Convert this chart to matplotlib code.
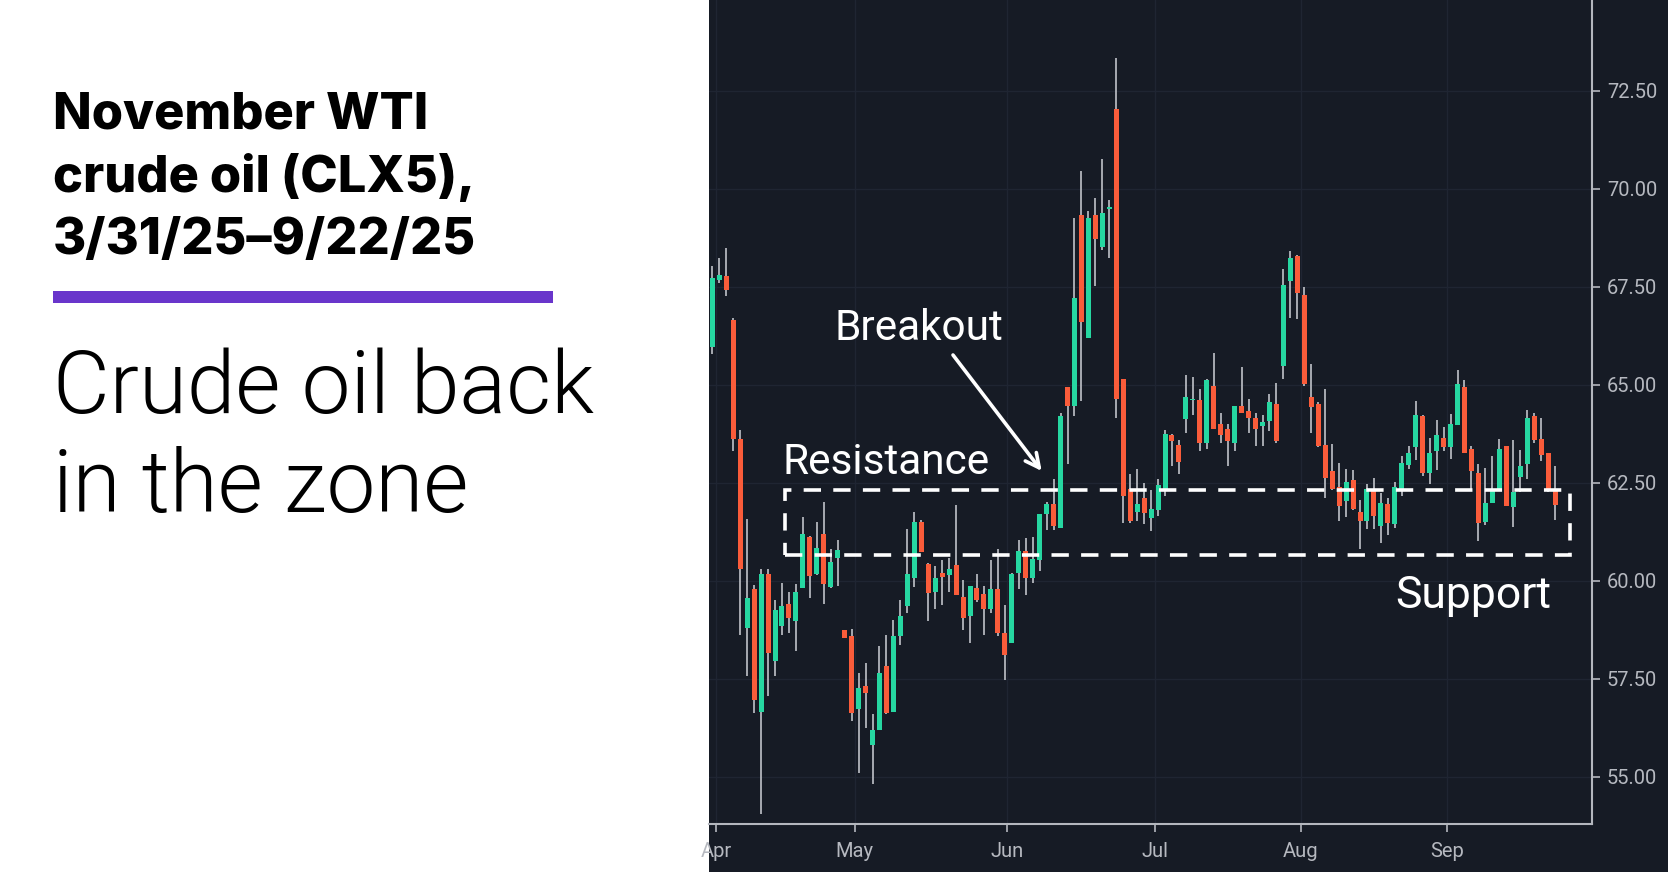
import matplotlib
matplotlib.use('Agg')
import matplotlib.pyplot as plt
import numpy as np
from matplotlib.patches import Rectangle
from matplotlib import font_manager as fm

# ---------------- data ----------------
opens = [65.95, 67.67, 67.76, 66.65, 63.61, 58.81, 59.79, 56.66, 60.17, 57.95,
         58.84, 59.40, 58.97, 59.81, 61.11, 60.17, 61.19, 59.85, 60.58, 58.74,
         58.59, 56.73, 57.31, 55.81, 56.19, 57.82, 56.66, 58.59, 59.35, 60.07,
         61.50, 60.43, 59.71, 60.21, 60.15, 60.40, 59.60, 59.10, 59.83, 59.66,
         59.29, 59.79, 58.68, 58.42, 60.21, 60.76, 60.08, 60.53, 61.70, 61.96,
         61.36, 64.95, 64.45, 69.33, 66.20, 69.33, 68.50, 69.49, 72.04, 65.14,
         62.34, 61.76, 62.12, 61.61, 61.80, 62.34, 63.72, 63.46, 64.12, 64.60,
         64.61, 63.52, 64.97, 63.99, 63.87, 63.52, 64.46, 64.33, 64.16, 63.95,
         64.07, 64.51, 65.48, 67.64, 68.27, 67.29, 64.70, 64.51, 63.46, 62.80,
         62.40, 62.03, 62.57, 61.76, 61.52, 62.31, 61.40, 61.97, 61.46, 62.35,
         62.95, 63.40, 64.20, 62.76, 63.31, 63.65, 63.40, 63.97, 64.95, 63.36,
         62.76, 61.49, 61.99, 62.31, 63.43, 61.89, 62.65, 62.98, 64.21, 63.62,
         63.26, 62.34]
highs = [68.03, 68.22, 68.49, 66.70, 63.84, 61.57, 59.90, 60.30, 60.30, 59.51,
         59.95, 59.71, 59.92, 61.62, 61.15, 61.50, 62.01, 60.82, 61.04, 58.74,
         58.77, 57.66, 57.91, 56.60, 58.33, 58.62, 59.00, 59.51, 61.32, 61.76,
         61.55, 60.45, 60.37, 60.53, 60.58, 61.93, 60.02, 59.86, 60.17, 59.86,
         60.53, 60.81, 59.38, 60.20, 61.04, 61.08, 61.13, 61.70, 62.00, 62.59,
         64.29, 64.95, 69.26, 70.44, 69.43, 69.75, 70.76, 69.71, 73.34, 65.14,
         62.72, 62.86, 62.50, 62.31, 62.59, 63.84, 63.74, 63.59, 65.25, 65.21,
         64.90, 65.14, 65.82, 64.29, 63.99, 64.46, 65.44, 64.63, 64.29, 64.23,
         64.76, 65.05, 67.96, 68.40, 68.31, 67.50, 65.53, 64.55, 64.90, 63.49,
         63.01, 62.85, 62.82, 62.06, 62.48, 62.61, 62.25, 62.10, 62.53, 63.18,
         63.43, 64.58, 64.22, 63.65, 64.10, 63.93, 64.26, 65.37, 65.12, 63.43,
         62.98, 62.87, 63.19, 63.62, 63.43, 63.59, 63.33, 64.35, 64.28, 64.16,
         63.26, 62.94]
lows = [65.78, 67.60, 67.26, 63.31, 58.62, 57.57, 56.64, 54.06, 57.06, 57.57,
        58.62, 58.67, 58.21, 59.81, 59.55, 60.14, 59.42, 59.81, 59.86, 58.55,
        56.42, 55.11, 56.26, 54.83, 56.19, 56.60, 56.66, 58.36, 59.19, 59.85,
        60.73, 58.97, 59.29, 59.38, 59.71, 59.64, 58.74, 58.42, 59.47, 58.62,
        59.19, 58.59, 57.47, 58.42, 59.79, 59.64, 59.95, 60.25, 61.29, 61.29,
        61.36, 62.98, 64.20, 64.58, 66.20, 67.52, 68.43, 68.22, 64.16, 61.48,
        61.48, 61.52, 61.45, 61.27, 61.65, 62.16, 62.93, 62.72, 63.78, 64.23,
        63.31, 63.36, 63.87, 63.52, 62.93, 63.31, 64.29, 63.78, 63.43, 63.43,
        63.82, 63.52, 65.14, 66.71, 66.67, 64.97, 63.78, 63.40, 62.12, 62.31,
        61.52, 61.64, 61.80, 60.81, 61.32, 61.33, 60.97, 61.17, 61.36, 62.16,
        62.85, 63.08, 62.67, 62.47, 62.82, 63.31, 63.10, 63.97, 63.27, 62.31,
        61.01, 61.42, 61.99, 62.31, 61.92, 61.38, 62.27, 62.60, 63.52, 63.05,
        62.27, 61.56]
closes = [67.71, 67.80, 67.41, 63.61, 60.30, 59.57, 56.96, 60.17, 58.17, 59.25,
          59.35, 59.05, 59.71, 61.19, 60.12, 60.85, 59.92, 60.49, 60.78, 58.55,
          56.63, 57.28, 57.14, 56.19, 57.66, 56.64, 58.59, 59.10, 60.17, 61.50,
          60.73, 59.69, 60.08, 60.11, 60.31, 59.64, 59.04, 59.86, 59.51, 59.29,
          59.79, 58.68, 58.11, 60.17, 60.76, 60.08, 60.55, 61.70, 61.96, 61.40,
          64.20, 64.45, 67.20, 66.59, 69.26, 68.71, 69.38, 69.49, 64.63, 62.16,
          61.52, 61.96, 61.74, 61.83, 62.44, 63.75, 63.56, 63.04, 64.70, 64.60,
          63.52, 65.12, 63.87, 63.72, 63.56, 64.46, 64.29, 64.14, 63.88, 64.05,
          64.55, 63.56, 67.54, 68.22, 67.35, 65.02, 64.42, 63.43, 62.63, 62.34,
          61.91, 62.53, 61.84, 61.52, 62.35, 61.65, 61.99, 61.48, 62.40, 63.01,
          63.27, 64.23, 62.76, 63.27, 63.71, 63.40, 63.99, 65.02, 63.27, 62.80,
          61.48, 61.99, 62.31, 63.36, 61.92, 62.27, 62.94, 64.16, 63.58, 63.22,
          62.34, 61.94]

month_labels = ['Apr', 'May', 'Jun', 'Jul', 'Aug', 'Sep']
month_pos = [0.55, 20.45, 42.38, 63.56, 84.51, 105.46]
price_ticks = [55.0, 57.5, 60.0, 62.5, 65.0, 67.5, 70.0, 72.5]
resistance = 62.31
support = 60.66

# ---------------- style ----------------
W, H = 1668, 872
BG = '#161b25'
GRID = '#1f2532'
GREEN = '#26d7a1'
RED = '#fa5c3a'
WICK = '#b9bcc2'
AXIS = '#b4b7be'
LABEL = '#b6b9c0'
PURPLE = '#6935cb'


def face(family, weight, size):
    """Pick the static face of a family whose weight is closest to the wanted one."""
    def w(f):
        try:
            return int(f.weight)
        except (TypeError, ValueError):
            return fm.weight_dict.get(f.weight, 400)
    cands = [f for f in fm.fontManager.ttflist
             if f.name == family and f.style == 'normal']
    if not cands:
        return fm.FontProperties(family=family, weight=weight, size=size)
    best = min(cands, key=lambda f: (abs(w(f) - weight), '[' in f.fname,
                                     'Condensed' in f.fname))
    return fm.FontProperties(fname=best.fname, size=size)


fig = plt.figure(figsize=(W / 100, H / 100), dpi=100, facecolor='white')


def fx(px):
    return px / W


def fy(py):
    return 1 - py / H


# dark panel on the right (behind the axes)
fig.patches.append(Rectangle((fx(708.5), 0), 1 - fx(708.5), 1, transform=fig.transFigure,
                             facecolor=BG, edgecolor='none', zorder=-10))

ax = fig.add_axes([fx(708.5), 48 / H, (1591.5 - 708.5) / W, 824 / H])
ax.set_zorder(2)
ax.set_facecolor(BG)

O = np.array(opens); Hh = np.array(highs); L = np.array(lows); C = np.array(closes)
x = np.arange(len(O))
cols = [GREEN if c >= o else RED for o, c in zip(O, C)]
ax.vlines(x, L, Hh, color=WICK, lw=1.25, zorder=2)
ax.bar(x, np.maximum(np.abs(C - O), 0.04), bottom=np.minimum(O, C), width=0.72,
       color=cols, linewidth=0, zorder=3)

ax.set_xlim(-0.55, 126.24)
ax.set_ylim(53.80, 74.81)

ax.yaxis.tick_right()
ax.set_yticks(price_ticks)
ax.set_yticklabels([f'{t:.2f}' for t in price_ticks])
ax.set_xticks(month_pos)
ax.set_xticklabels(month_labels)
ax.tick_params(axis='y', colors=AXIS, labelcolor=LABEL, length=6, width=1.2, pad=5)
ax.tick_params(axis='x', colors=AXIS, labelcolor=LABEL, length=6, width=1.2, pad=7)
tickfont = face('Roboto', 400, 14.5)
for lab in ax.get_xticklabels() + ax.get_yticklabels():
    lab.set_fontproperties(tickfont)
ax.grid(True, color=GRID, lw=1.0, zorder=0)
ax.set_axisbelow(True)
for s in ['top', 'left']:
    ax.spines[s].set_visible(False)
for s in ['right', 'bottom']:
    ax.spines[s].set_color(AXIS)
    ax.spines[s].set_linewidth(1.5)

# support / resistance box
box = Rectangle((10.44, support), 123.1 - 10.44, resistance - support, fill=False,
                edgecolor='white', lw=2.6, linestyle=(0, (4.8, 3.4)), zorder=5)
ax.add_patch(box)

# chart annotations
ann = face('Roboto', 400, 30.5)
fig.text(fx(835), fy(340), 'Breakout', color='white', fontproperties=ann,
         va='baseline', ha='left', zorder=5)
fig.text(fx(782), fy(474), 'Resistance', color='white', fontproperties=ann,
         va='baseline', ha='left', zorder=5)
ann_s = face('Roboto', 400, 32.0)
fig.text(fx(1395), fy(608), 'Support', color='white', fontproperties=ann_s,
         va='baseline', ha='left', zorder=5)
ax.annotate('', xy=(fx(1041.7), fy(471)), xycoords='figure fraction',
            xytext=(fx(953), fy(355)), textcoords='figure fraction',
            arrowprops=dict(arrowstyle='->,head_length=1.0,head_width=0.5', color='white',
                            lw=2.6, shrinkA=0, shrinkB=0), zorder=6)

# left text panel
ttl = face('Inter', 800, 36.4)
for line, base in zip(['November WTI', 'crude oil (CLX5),', '3/31/25\u20139/22/25'],
                      [128.7, 191.5, 254.5]):
    fig.text(fx(53), fy(base), line, fontproperties=ttl, va='baseline', ha='left',
             color='black')
fig.patches.append(Rectangle((fx(53), fy(303.2)), fx(553) - fx(53), (303.2 - 291.5) / H,
                             transform=fig.transFigure, facecolor=PURPLE,
                             edgecolor='none'))
sub = face('Roboto', 300, 62.8)
fig.text(fx(53), fy(412.8), 'Crude oil back', fontproperties=sub, va='baseline',
         ha='left', color='black')
fig.text(fx(53), fy(511.7), 'in the zone', fontproperties=sub, va='baseline',
         ha='left', color='black')

fig.savefig('out.png', dpi=100, facecolor='white')
